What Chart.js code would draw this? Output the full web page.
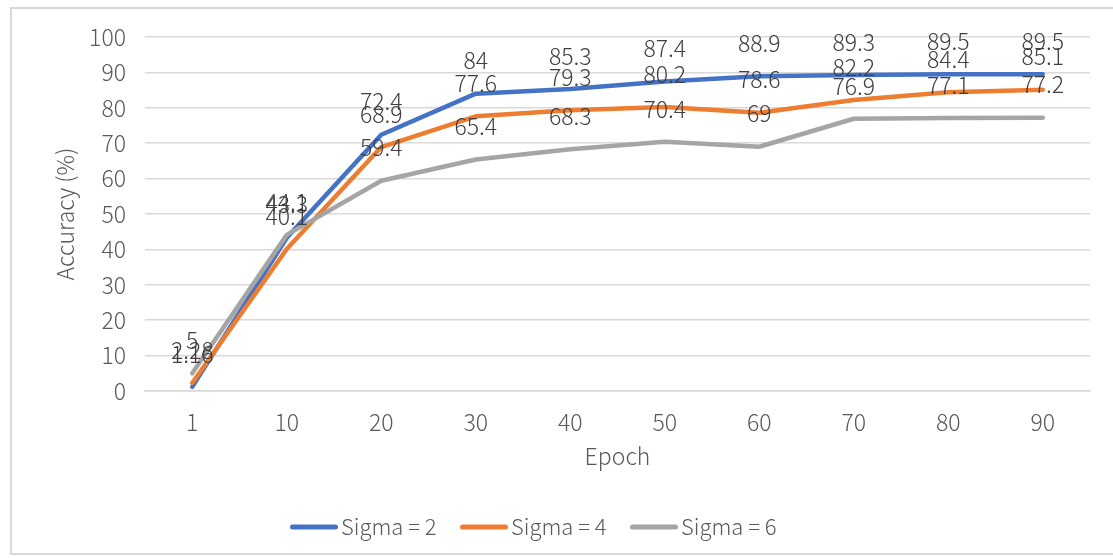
<!DOCTYPE html>
<html>
<head>
<meta charset="utf-8">
<script src="https://cdn.jsdelivr.net/npm/chart.js@4"></script>
<style>
  html, body { margin: 0; padding: 0; background: #fff; }
  #frame { position: absolute; left: 10px; top: 7px; width: 1120px; height: 548px; border: 2px solid #d9d9d9; box-sizing: border-box; }
  #wrap { position: absolute; left: 0; top: 0; width: 1113px; height: 558px; }
</style>
</head>
<body>
<div id="frame"></div>
<div id="wrap"><canvas id="chart"></canvas></div>
<script>
// data
const epochs = ["1", "10", "20", "30", "40", "50", "60", "70", "80", "90"];
const sigma2 = [1.16, 43.3, 72.4, 84, 85.3, 87.4, 88.9, 89.3, 89.5, 89.5];
const sigma4 = [2.28, 40.1, 68.9, 77.6, 79.3, 80.2, 78.6, 82.2, 84.4, 85.1];
const sigma6 = [5, 44.1, 59.4, 65.4, 68.3, 70.4, 69, 76.9, 77.1, 77.2];
const yTicks = [0, 10, 20, 30, 40, 50, 60, 70, 80, 90, 100];

const FONT = "'Noto Sans CJK SC', 'Noto Sans', sans-serif";
const GREY = "#595959";

// value labels above each point, drawn after all lines
const pointLabels = {
  id: "pointLabels",
  afterDatasetsDraw(chart) {
    const ctx = chart.ctx;
    ctx.save();
    ctx.font = "300 23px " + FONT;
    ctx.fillStyle = "#404040";
    ctx.textAlign = "center";
    ctx.textBaseline = "middle";
    chart.data.datasets.forEach((ds, i) => {
      const meta = chart.getDatasetMeta(i);
      meta.data.forEach((pt, j) => {
        ctx.fillText(String(ds.data[j]), pt.x, pt.y - 33);
      });
    });
    ctx.restore();
  }
};

// legend like the office one: line sample right next to its text
const lineLegend = {
  id: "lineLegend",
  afterDraw(chart) {
    const ctx = chart.ctx;
    const y = 527, sample = 48, gapText = 3, startX = 290, stride = 170;
    ctx.save();
    ctx.font = "300 22px " + FONT;
    ctx.textBaseline = "middle";
    chart.data.datasets.forEach((ds, i) => {
      const x = startX + i * stride;
      ctx.strokeStyle = ds.borderColor;
      ctx.lineWidth = 5;
      ctx.lineCap = "round";
      ctx.beginPath();
      ctx.moveTo(x + 2.5, y);
      ctx.lineTo(x + sample - 2.5, y);
      ctx.stroke();
      ctx.fillStyle = GREY;
      ctx.fillText(ds.label, x + sample + gapText, y);
    });
    ctx.restore();
  }
};

new Chart(document.getElementById("chart"), {
  type: "line",
  data: {
    labels: epochs,
    datasets: [
      { label: "Sigma = 2", data: sigma2, borderColor: "#4472C4", backgroundColor: "#4472C4", order: 3 },
      { label: "Sigma = 4", data: sigma4, borderColor: "#ED7D31", backgroundColor: "#ED7D31", order: 2 },
      { label: "Sigma = 6", data: sigma6, borderColor: "#A5A5A5", backgroundColor: "#A5A5A5", order: 1 }
    ].map(d => Object.assign(d, {
      borderWidth: 4.5,
      pointRadius: 0,
      tension: 0,
      borderCapStyle: "round",
      borderJoinStyle: "round",
      fill: false
    }))
  },
  options: {
    responsive: true,
    maintainAspectRatio: false,
    animation: false,
    layout: { padding: { left: 10, right: 23, top: 37, bottom: 53 } },
    plugins: {
      tooltip: { enabled: false },
      legend: { display: false }
    },
    scales: {
      x: {
        offset: true,
        afterFit: axis => { axis.height = 114; },
        grid: { display: false, drawTicks: false },
        border: { color: "#d9d9d9", width: 1.5 },
        ticks: { font: { family: FONT, size: 23, weight: 300 }, color: GREY, padding: 17 },
        title: { display: true, text: "Epoch", font: { family: FONT, size: 23, weight: 300 }, color: GREY, padding: { top: 0, bottom: 35 } }
      },
      y: {
        min: 0,
        max: 100,
        afterFit: axis => { axis.width = 135; },
        afterBuildTicks: axis => { axis.ticks = yTicks.map(v => ({ value: v })); },
        grid: { color: "#d9d9d9", lineWidth: 1.5, drawTicks: false },
        border: { display: false },
        ticks: { font: { family: FONT, size: 23, weight: 300 }, color: GREY, padding: 19 },
        title: { display: true, text: "Accuracy (%)", font: { family: FONT, size: 23, weight: 300 }, color: GREY, padding: { top: 41, bottom: 0 } }
      }
    }
  },
  plugins: [pointLabels, lineLegend]
});
</script>
</body>
</html>
